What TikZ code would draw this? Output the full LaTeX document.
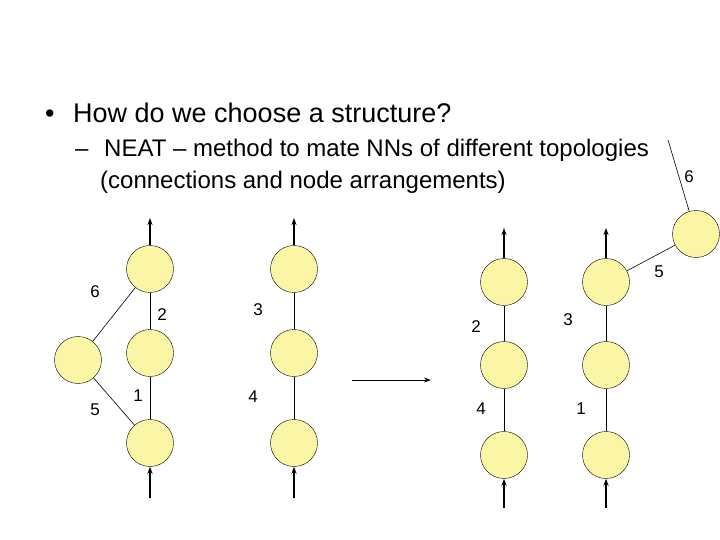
\documentclass[tikz,border=0pt]{standalone}
\usepackage{fontspec}
\setmainfont{Liberation Sans}
\usetikzlibrary{arrows.meta}
\definecolor{nodey}{RGB}{250,246,165}
\begin{document}
\begin{tikzpicture}[x=1pt,y=-1pt,
  neuron/.style={circle,draw=black,fill=nodey,minimum size=47pt,inner sep=0pt},
  lab/.style={font=\fontsize{17}{19}\selectfont},
  conn/.style={draw=black,line width=0.6pt},
  io/.style={-{Stealth[length=7pt,width=5pt]},line width=1.6pt}]
\useasboundingbox (0,0) rectangle (720,540);
\node[anchor=base west,inner sep=0pt,font=\fontsize{27}{30}\selectfont] (t1) at (45,123) {\textbullet};
\node[anchor=base west,inner sep=0pt,font=\fontsize{27}{30}\selectfont] (t1b) at (73,123) {How do we choose a structure?};
\node[anchor=base west,inner sep=0pt,font=\fontsize{24}{27}\selectfont] (t2) at (75,157) {–};
\node[anchor=base west,inner sep=0pt,font=\fontsize{24}{27}\selectfont] (t2b) at (104,157) {NEAT – method to mate NNs of different topologies};
\node[anchor=base west,inner sep=0pt,font=\fontsize{24}{27}\selectfont] (t3) at (100,189) {(connections and node arrangements)};
% left network
\node[neuron] (a1) at (150,443) {};
\node[neuron] (a2) at (150,353) {};
\node[neuron] (a3) at (150,269) {};
\node[neuron] (a4) at (78,360) {};
% second
\node[neuron] (b1) at (294,443) {};
\node[neuron] (b2) at (294,353) {};
\node[neuron] (b3) at (294,269) {};
% right
\node[neuron] (c1) at (504,455) {};
\node[neuron] (c2) at (504,365) {};
\node[neuron] (c3) at (504,282) {};
\node[neuron] (d1) at (606,455) {};
\node[neuron] (d2) at (606,365) {};
\node[neuron] (d3) at (606,282) {};
\node[neuron] (e) at (696,234) {};
\coordinate (efree) at (668,140);
\foreach \n in {a,b,c,d}{
  \draw[conn] (\n1) -- (\n2) (\n2) -- (\n3);
}
\draw[conn] (a4) -- (a3) (a4) -- (a1);
\draw[conn] (d3) -- (e) (e) -- (efree);
% io arrows
\foreach \n/\x/\yt/\yb in {a/150/218/498, b/294/218/498, c/504/228/508, d/606/228/508}{
  \coordinate (\n top) at (\x,\yt);
  \coordinate (\n bot) at (\x,\yb);
  \draw[io] (\n3.north) -- (\n top);
  \draw[io] (\n bot) -- (\n1.south);
}
\coordinate (mA) at (352,380);
\coordinate (mB) at (431,380);
\draw[-{Stealth[length=7pt,width=5pt]},line width=0.9pt] (mA) -- (mB);
% labels
\node[lab] (l6) at (95,292) {6};
\node[lab] (l2) at (162,315) {2};
\node[lab] (l5) at (95,410) {5};
\node[lab] (l1) at (138,396) {1};
\node[lab] (l3) at (258,310) {3};
\node[lab] (l4) at (253,397) {4};
\node[lab] (r2) at (476,327) {2};
\node[lab] (r3) at (568,320) {3};
\node[lab] (r4) at (481,409) {4};
\node[lab] (r1) at (581,409) {1};
\node[lab] (r5) at (659,272) {5};
\node[lab] (r6) at (689,177) {6};
\end{tikzpicture}
\end{document}
